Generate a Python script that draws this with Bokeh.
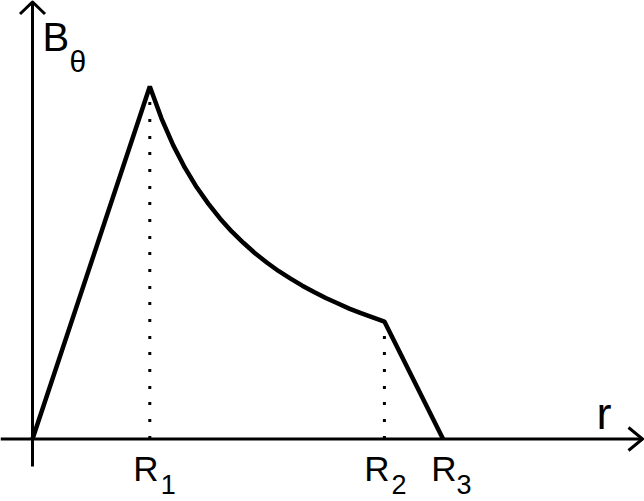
from bokeh.plotting import figure
from bokeh.models import Range1d
from bokeh.core.properties import value
from bokeh.embed import file_html
from bokeh.resources import INLINE

# ---- data (r in units of R1, B_theta in units of B(R1)) ----
radii = [1.0, 3.0, 3.5]                 # R1, R2, R3
radius_main = ["R", "R", "R"]
radius_sub = ["1", "2", "3"]
drop_r = [1.0, 3.0]                     # dotted drop lines at R1, R2
drop_b = [1.0, 0.333]

r_vals = [0.0, 1.0, 1.1, 1.2, 1.3, 1.4, 1.5, 1.6, 1.7, 1.8, 1.9, 2.0,
          2.1, 2.2, 2.3, 2.4, 2.5, 2.6, 2.7, 2.8, 2.9, 3.0, 3.5]
b_vals = [0.0, 1.000, 0.909, 0.833, 0.769, 0.714, 0.667, 0.625, 0.588,
          0.556, 0.526, 0.500, 0.476, 0.455, 0.435, 0.417, 0.400, 0.385,
          0.370, 0.357, 0.345, 0.333, 0.0]

y_title = "B"
y_title_sub = "θ"
x_title = "r"

# ---- layout ----
W, H = 644, 501
x0, x1 = -0.27281, 5.21739
y0, y1 = -0.17730, 1.24397
sx = W / (x1 - x0)
sy = H / (y1 - y0)

X_TIP = x1 - 2 / sx
Y_TIP = y1 - 1.5 / sy
Y_AXIS_BOTTOM = -27.5 / sy

FONT = "Liberation Sans"

p = figure(width=W, height=H, x_range=Range1d(x0, x1), y_range=Range1d(y0, y1),
           output_backend="svg", toolbar_location=None,
           x_axis_type=None, y_axis_type=None, min_border=0,
           outline_line_color=None, background_fill_color="white",
           border_fill_color="white")

# axes
p.segment(x0=[x0, 0.0], y0=[0.0, Y_AXIS_BOTTOM], x1=[X_TIP, 0.0], y1=[0.0, Y_TIP],
          line_width=3, line_color="black", line_cap="butt")
# arrow heads
p.multi_line(xs=[[X_TIP - 14 / sx, X_TIP, X_TIP - 14 / sx],
                 [-12.5 / sx, 0.0, 12.5 / sx]],
             ys=[[11.5 / sy, 0.0, -11.5 / sy],
                 [Y_TIP - 12 / sy, Y_TIP, Y_TIP - 12 / sy]],
             line_width=3, line_color="black", line_join="miter")

# dotted drop lines
p.segment(x0=drop_r, y0=[0.0] * len(drop_r), x1=drop_r, y1=drop_b,
          line_width=3, line_color="black", line_dash="3 14 3 14 3 13",
          line_cap="butt")

# field profile
p.line(r_vals, b_vals, line_width=4.5, line_color="black")

# radius labels
p.text(x=radii, y=[0.0] * 3, text=radius_main,
       x_offset=[-4, -7.4, 0.9], y_offset=29.5,
       text_align="center", text_baseline="alphabetic",
       text_font=value(FONT), text_font_size="35px", text_color="black")
p.text(x=radii, y=[0.0] * 3, text=radius_sub,
       x_offset=[11, 7, 13.4], y_offset=45,
       text_align="left", text_baseline="alphabetic",
       text_font=value(FONT), text_font_size="27px", text_color="black")

# axis titles (anchored at origin)
p.text(x=[0.0], y=[0.0], text=[y_title], x_offset=10, y_offset=-402.5,
       text_align="left", text_baseline="alphabetic",
       text_font=value(FONT), text_font_size="40px", text_color="black")
p.text(x=[0.0], y=[0.0], text=[y_title_sub], x_offset=37, y_offset=-378,
       text_align="left", text_baseline="alphabetic",
       text_font=value(FONT), text_font_size="30px", text_color="black")
p.text(x=[0.0], y=[0.0], text=[x_title], x_offset=564, y_offset=-25.5,
       text_align="left", text_baseline="alphabetic",
       text_font=value(FONT), text_font_size="45px", text_color="black")

open("out.html", "w").write(file_html(p, INLINE))
